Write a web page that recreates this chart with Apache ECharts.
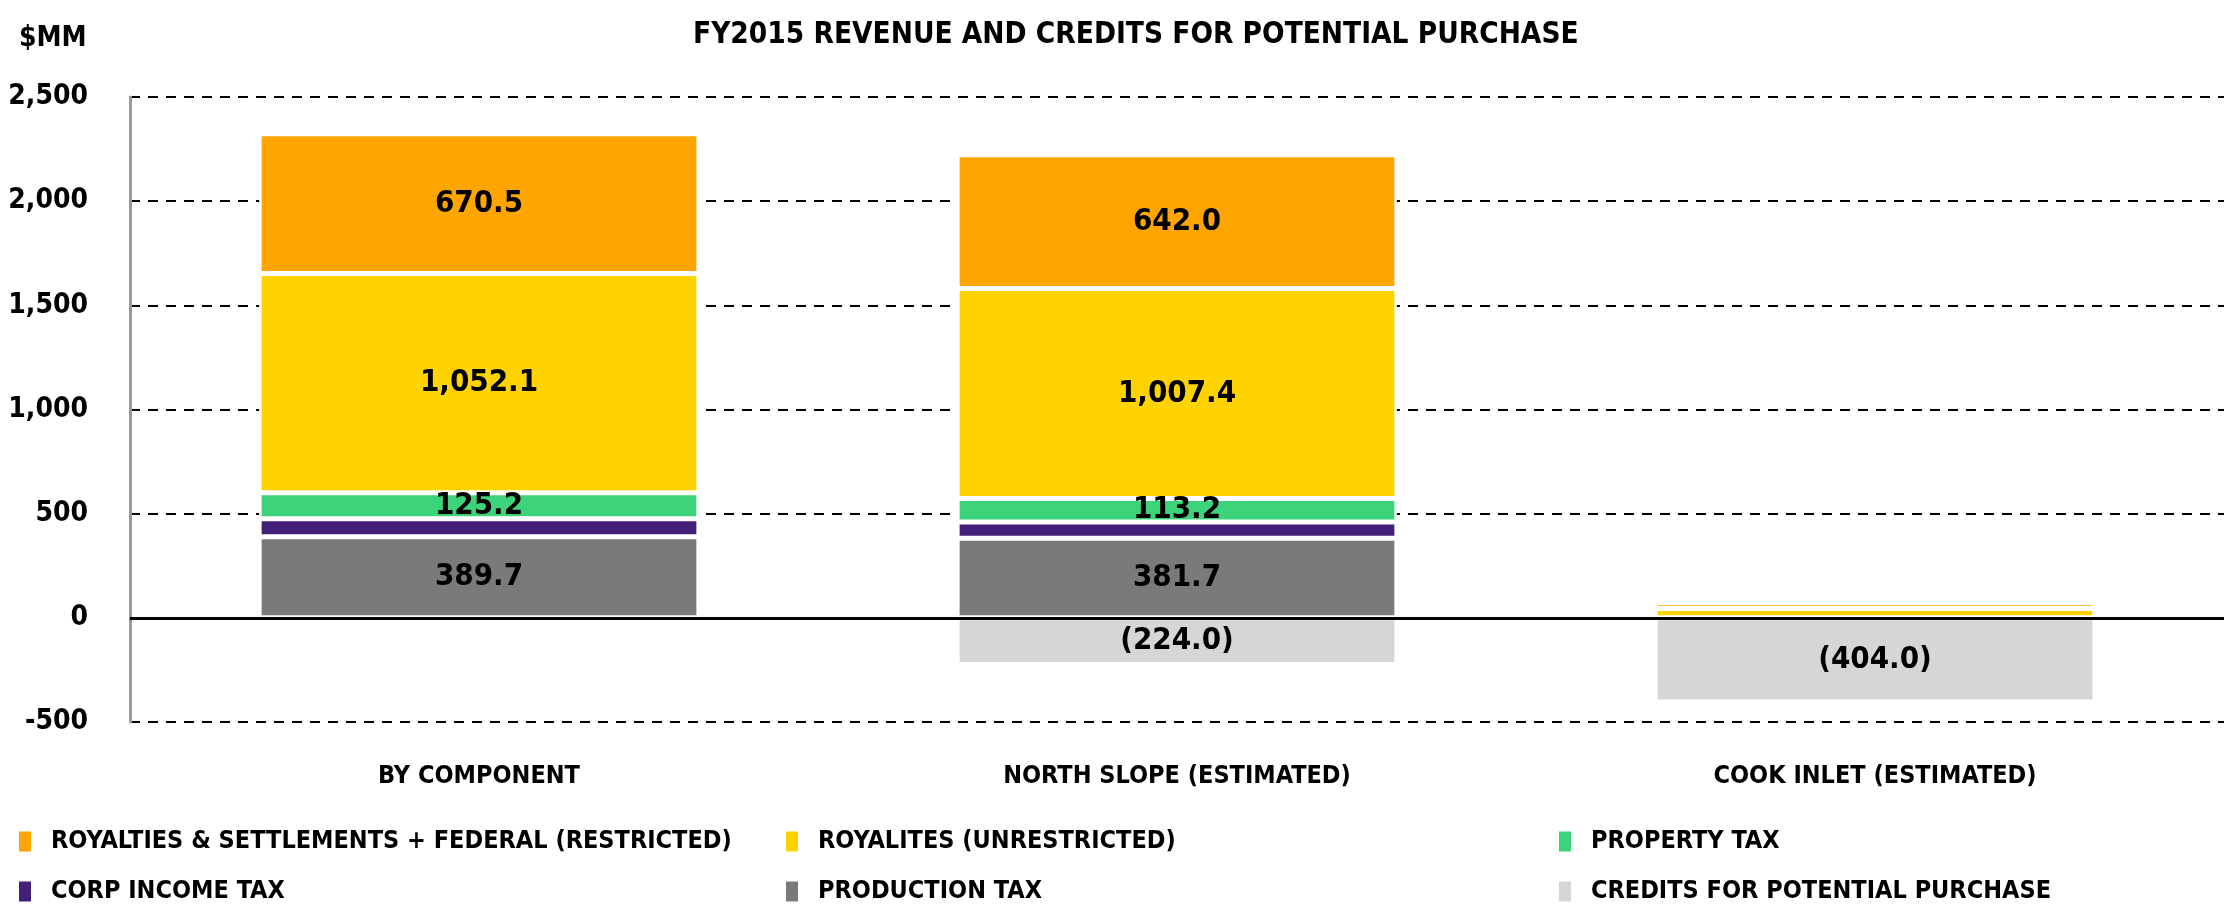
<!DOCTYPE html>
<html>
<head>
<meta charset="utf-8">
<script src="https://cdn.jsdelivr.net/npm/echarts@6/dist/echarts.min.js"></script>
<style>
  html, body { margin: 0; padding: 0; background: #fff; }
  #mychart { width: 2228px; height: 913px; }
</style>
</head>
<body>
<div id="mychart"></div>
<script>
// chart data
const categories = ['BY COMPONENT', 'NORTH SLOPE (ESTIMATED)', 'COOK INLET (ESTIMATED)']
const productionTax = [389.7, 381.7, null]
const corpIncomeTax = [86, 78, null]
const propertyTax = [125.2, 113.2, null]
const royaltiesUnrestricted = [1052.1, 1007.4, 45]
const royaltiesRestricted = [670.5, 642.0, 28]
const credits = [null, -224.0, -404.0]
const yTicks = [-500, 0, 500, 1000, 1500, 2000, 2500]

const FONT = '"Liberation Sans Narrow", "DejaVu Sans Condensed", sans-serif'

function fmt (v) {
  const s = Math.abs(v).toLocaleString('en-US', { minimumFractionDigits: 1, maximumFractionDigits: 1 })
  return v < 0 ? '(' + s + ')' : s
}

function barLabel (show) {
  return {
    show: show,
    position: 'inside',
    color: '#000',
    fontFamily: FONT,
    fontWeight: 'bold',
    fontSize: 31,
    formatter: function (p) {
      // tiny cook inlet pieces carry no label
      if (p.value == null || Math.abs(p.value) < 50) return ''
      return fmt(p.value)
    }
  }
}

function stackSeries (name, data, color, showLabel) {
  return {
    name: name,
    type: 'bar',
    stack: 'total',
    barWidth: '63%',
    data: data,
    itemStyle: { color: color, borderColor: '#fff', borderWidth: 2.5 },
    label: barLabel(showLabel),
    emphasis: { disabled: true }
  }
}

const mychart = echarts.init(document.getElementById('mychart'))

const series = [
  stackSeries('PRODUCTION TAX', productionTax, '#7a7a7a', true),
  stackSeries('CORP INCOME TAX', corpIncomeTax, '#431f77', false),
  stackSeries('PROPERTY TAX', propertyTax, '#3dd37a', true),
  stackSeries('ROYALITES (UNRESTRICTED)', royaltiesUnrestricted, '#ffd300', true),
  stackSeries('ROYALTIES & SETTLEMENTS + FEDERAL (RESTRICTED)', royaltiesRestricted, '#ffa500', true),
  stackSeries('CREDITS FOR POTENTIAL PURCHASE', credits, '#d6d6d6', true)
]
// zero line
series[0].markLine = {
  silent: true,
  symbol: 'none',
  z: 10,
  label: { show: false },
  lineStyle: { color: '#000', type: 'solid', width: 3 },
  data: [{ yAxis: 0 }]
}

const legendText = { color: '#000', fontFamily: FONT, fontWeight: 'bold', fontSize: 25, padding: [0, 0, 0, 14] }
function legendCol (left, names) {
  return {
    orient: 'vertical',
    left: left,
    top: 829,
    padding: 0,
    itemWidth: 14,
    itemHeight: 22,
    itemGap: 25,
    icon: 'rect',
    selectedMode: false,
    textStyle: legendText,
    data: names
  }
}

mychart.setOption({
  animation: false,
  title: [
    {
      text: 'FY2015 REVENUE AND CREDITS FOR POTENTIAL PURCHASE',
      left: 693,
      top: 20,
      padding: 0,
      textStyle: { color: '#000', fontFamily: FONT, fontWeight: 'bold', fontSize: 29.5 }
    },
    {
      text: '$MM',
      left: 19,
      top: 25,
      padding: 0,
      textStyle: { color: '#000', fontFamily: FONT, fontWeight: 'bold', fontSize: 28 }
    }
  ],
  legend: [
    legendCol(17, ['ROYALTIES & SETTLEMENTS + FEDERAL (RESTRICTED)', 'CORP INCOME TAX']),
    legendCol(784, ['ROYALITES (UNRESTRICTED)', 'PRODUCTION TAX']),
    legendCol(1557, ['PROPERTY TAX', 'CREDITS FOR POTENTIAL PURCHASE'])
  ],
  grid: {
    left: 130,
    right: 4,
    top: 97,
    bottom: 191,
    containLabel: false,
    outerBoundsMode: 'none'
  },
  xAxis: {
    type: 'category',
    data: categories,
    axisLine: { show: false, onZero: false },
    axisTick: { show: false },
    axisLabel: {
      color: '#000',
      fontFamily: FONT,
      fontWeight: 'bold',
      fontSize: 25,
      margin: 42
    }
  },
  yAxis: {
    type: 'value',
    min: yTicks[0],
    max: yTicks[yTicks.length - 1],
    interval: 500,
    axisLine: { show: true, lineStyle: { color: '#9a9a9a', width: 3 } },
    axisTick: { show: false },
    axisLabel: {
      color: '#000',
      fontFamily: FONT,
      fontWeight: 'bold',
      fontSize: 28,
      margin: 42,
      padding: [8, 0, 0, 0],
      formatter: function (v) { return v.toLocaleString('en-US') }
    },
    splitLine: {
      show: true,
      lineStyle: { color: '#000', width: 2, type: [10, 8] }
    }
  },
  series: series
})

window.onresize = function () {
  mychart.resize()
}
</script>
</body>
</html>
